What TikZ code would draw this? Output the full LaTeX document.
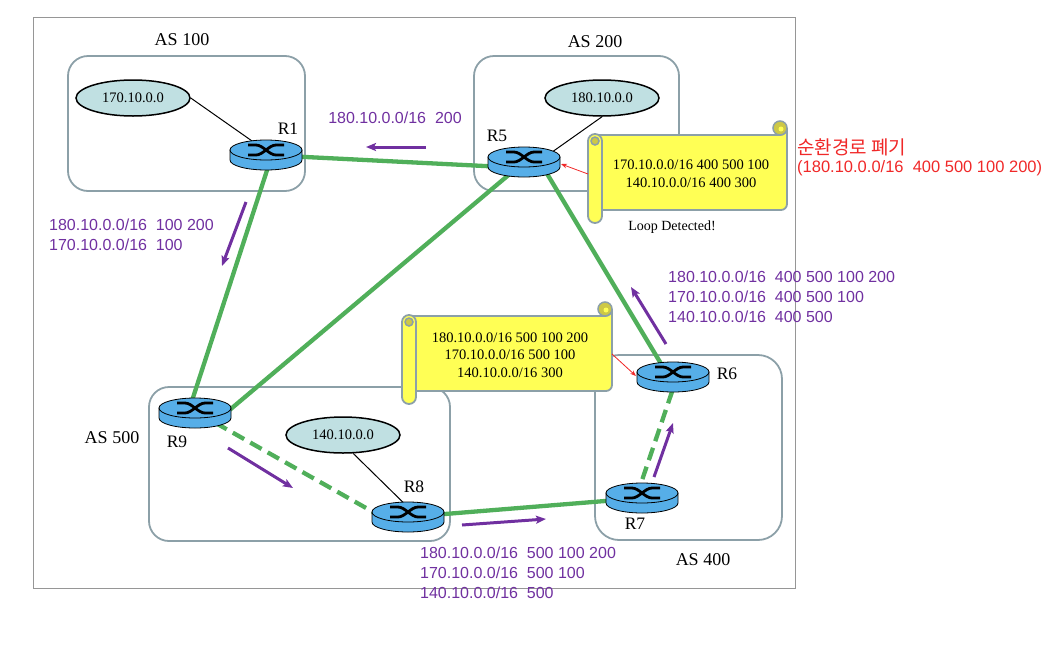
\documentclass[tikz,border=0pt]{standalone}
\usepackage{fontspec}
\setmainfont{Liberation Serif}
\newfontfamily\arialf{Liberation Sans}
\newfontfamily\krf{Noto Sans CJK KR}
\usetikzlibrary{arrows.meta,calc,shapes.geometric}
\definecolor{routerblue}{RGB}{86,174,232}
\definecolor{linkgreen}{RGB}{80,175,90}
\definecolor{boxgray}{RGB}{140,160,168}
\definecolor{netfill}{RGB}{192,224,226}
\definecolor{pathpurple}{RGB}{112,48,160}
\definecolor{scrollyellow}{RGB}{255,255,85}
\definecolor{curlshade}{RGB}{205,200,70}
\definecolor{alertred}{RGB}{240,40,40}
\definecolor{framegray}{RGB}{150,150,150}
\tikzset{
  router/.pic={
    \filldraw[fill=routerblue, draw=black, line width=0.8pt] (-36,-5) -- (-36,5) arc[start angle=180,end angle=0,x radius=36,y radius=10] -- (36,-5) -- cycle;
    \filldraw[fill=routerblue, draw=black, line width=0.8pt] (0,-5) ellipse [x radius=36, y radius=10];
    \draw[line width=2.8pt] (-18,-10) -- (-10,-10) .. controls (-3,-10) and (3,0) .. (10,0) -- (18,0);
    \draw[line width=2.8pt] (-18,0) -- (-10,0) .. controls (-3,0) and (3,-10) .. (10,-10) -- (18,-10);
  },
  asbox/.style={draw=boxgray, line width=1.8pt, rounded corners=20pt},
  link/.style={draw=linkgreen, line width=4.3pt},
  dashlink/.style={dash pattern=on 13pt off 7pt},
  netnode/.style={ellipse, draw=black, line width=1.5pt, fill=netfill, minimum width=114pt, minimum height=36pt, inner sep=0pt, font=\fontsize{14.5}{16}\selectfont},
  netline/.style={draw=black, line width=1pt},
  aslabel/.style={font=\fontsize{18}{20}\selectfont, inner sep=0pt},
  rlabel/.style={font=\fontsize{17.5}{20}\selectfont, inner sep=0pt},
  scrollbody/.style={fill=scrollyellow, draw=boxgray, line width=1.8pt},
  scrollcurl/.style={fill=curlshade, draw=boxgray, line width=1.5pt},
  scrolltext/.style={font=\fontsize{14.5}{18}\selectfont, align=center, inner sep=0pt},
  pathlabel/.style={font=\arialf\fontsize{16}{20}\selectfont, text=pathpurple, align=left, anchor=west, inner sep=0pt},
  patharrow/.style={draw=pathpurple, line width=3pt, -{Stealth[length=10pt,width=8pt,inset=2pt]}},
  alertarrow/.style={draw=alertred, line width=0.8pt, -{Stealth[length=6pt,width=4.5pt]}},
}
\newcommand{\drawscroll}[5]{%
  \filldraw[scrollbody] (#1+7,#2) -- (#3-7,#2) arc[start angle=90,end angle=0,radius=7] [rounded corners=6pt] -- (#3,#4) -- (#1+7,#4) [sharp corners] -- cycle;
  \filldraw[scrollcurl] (#3-7,#2-7) circle[radius=7];
  \fill[scrollyellow] (#3-6,#2-6) circle[radius=2.5];
  \filldraw[scrollbody, rounded corners=7pt] (#1,#2-1) rectangle (#1+14,#5);
  \filldraw[scrollcurl] (#1+7,#2+6) circle[radius=4];
}
\begin{document}
\begin{tikzpicture}[x=1pt,y=-1pt]
\useasboundingbox (0,0) rectangle (1060,646);
% frame
\draw[framegray, line width=0.8pt] (33,17) rectangle (795,588);
% AS boxes
\draw[asbox] (68,56) rectangle (305,191);
\draw[asbox] (474,56) rectangle (679,191);
\draw[asbox] (149,387) rectangle (450,541);
\draw[asbox, rounded corners=24pt] (595,355) rectangle (782,540);
\node[aslabel] (as100) at (182,40) {AS 100};
\node[aslabel] (as200) at (595,42) {AS 200};
\node[aslabel] (as500) at (112,438) {AS 500};
\node[aslabel] (as400) at (703,560) {AS 400};
% router positions
\coordinate (R1) at (266,155);
\coordinate (R5) at (524,162);
\coordinate (R9) at (195,413);
\coordinate (R8) at (408,517);
\coordinate (R6) at (673,377);
\coordinate (R7) at (642,498);
% networks
\node[netnode] (N1) at (133,98) {170.10.0.0};
\node[netnode] (N2) at (602,98) {180.10.0.0};
\node[netnode] (N3) at (343,435) {140.10.0.0};
% links
\draw[link] (R1) -- ($(R5)+(0,6)$);
\draw[link] ($(R1)+(6,0)$) -- ($(R9)+(-7,0)$);
\draw[link] (R5) -- ($(R9)+(31,0)$);
\draw[link] ($(R5)+(16,0)$) -- ($(R6)+(-4,0)$);
\draw[link, dashlink] ($(R9)+(3,0)$) -- ($(R8)+(-26,0)$);
\draw[link] (R8) -- (R7);
\draw[link, dashlink] ($(R7)+(-6,0)$) -- ($(R6)+(4,0)$);
% network attachments
\draw[netline] (N1.east) -- ($(R1)+(6,0)$);
\draw[netline] (N2.south) -- ($(R5)+(14,0)$);
\draw[netline] (N3.-61) -- ($(R8)+(10,0)$);
% routers
\pic (R1p) at (R1) {router};
\pic (R5p) at (R5) {router};
\pic (R9p) at (R9) {router};
\pic (R8p) at (R8) {router};
\pic (R6p) at (R6) {router};
\pic (R7p) at (R7) {router};
\node[rlabel] (R1l) at (288,129) {R1};
\node[rlabel] (R5l) at (497,136) {R5};
\node[rlabel] (R9l) at (177,442) {R9};
\node[rlabel] (R8l) at (414,487) {R8};
\node[rlabel] (R6l) at (727,374) {R6};
\node[rlabel] (R7l) at (635,524) {R7};
% scrolls
\drawscroll{588}{135}{787}{210}{223}
\node[scrolltext] (s1) at (691,174) {170.10.0.0/16 400 500 100\\140.10.0.0/16 400 300};
\node[font=\fontsize{14}{16}\selectfont, inner sep=0pt] (loop) at (672,227) {Loop Detected!};
\drawscroll{402}{316}{612}{391}{404}
\node[scrolltext, font=\fontsize{14.5}{17.5}\selectfont] (s2) at (510,355) {180.10.0.0/16 500 100 200\\170.10.0.0/16 500 100\\140.10.0.0/16 300};
% alert arrows
\coordinate (r1s) at (588,174);
\coordinate (r1e) at (561,164);
\coordinate (r2s) at (612,354);
\coordinate (r2e) at (636,376);
\draw[alertarrow] (r1s) -- (r1e);
\draw[alertarrow] (r2s) -- (r2e);
\node[anchor=west, inner sep=0pt, text=alertred, font=\krf\fontsize{19}{20}\selectfont] (kr1) at (797,147) {순환경로 폐기};
\node[anchor=west, inner sep=0pt, text=alertred, font=\arialf\fontsize{16.5}{20}\selectfont] (kr2) at (797,168) {(180.10.0.0/16\ \ 400 500 100 200)};
% path labels
\node[pathlabel, anchor=center] (p1) at (395,118) {180.10.0.0/16\ \ 200};
\node[pathlabel] (p2) at (49,235) {180.10.0.0/16\ \ 100 200\\170.10.0.0/16\ \ 100};
\node[pathlabel] (p3) at (668,297) {180.10.0.0/16\ \ 400 500 100 200\\170.10.0.0/16\ \ 400 500 100\\140.10.0.0/16\ \ 400 500};
\node[pathlabel] (p4) at (420,573) {180.10.0.0/16\ \ 500 100 200\\170.10.0.0/16\ \ 500 100\\140.10.0.0/16\ \ 500};
% path arrows
\coordinate (a1s) at (426,147); \coordinate (a1e) at (366,147);
\coordinate (a2s) at (246,202); \coordinate (a2e) at (222,266);
\coordinate (a3s) at (666,344); \coordinate (a3e) at (631,287);
\coordinate (a4s) at (228,448); \coordinate (a4e) at (293,488);
\coordinate (a5s) at (462,525); \coordinate (a5e) at (546,519);
\coordinate (a6s) at (654,477); \coordinate (a6e) at (673,423);
\draw[patharrow] (a1s) -- (a1e);
\draw[patharrow] (a2s) -- (a2e);
\draw[patharrow] (a3s) -- (a3e);
\draw[patharrow] (a4s) -- (a4e);
\draw[patharrow] (a5s) -- (a5e);
\draw[patharrow] (a6s) -- (a6e);
\end{tikzpicture}
\end{document}
